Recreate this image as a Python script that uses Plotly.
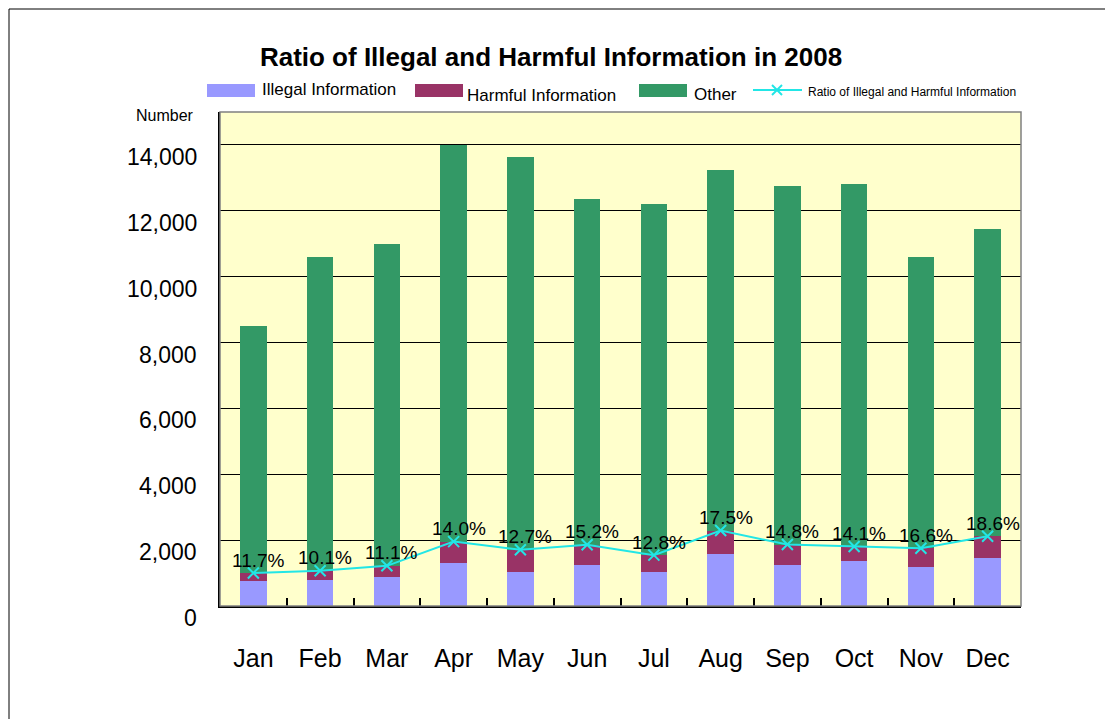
import plotly.graph_objects as go

months = ["Jan", "Feb", "Mar", "Apr", "May", "Jun", "Jul", "Aug", "Sep", "Oct", "Nov", "Dec"]
illegal = [760, 790, 880, 1315, 1040, 1245, 1035, 1580, 1245, 1365, 1185, 1460]
harmful = [240, 280, 340, 640, 670, 615, 510, 710, 620, 440, 570, 660]
other = [7500, 9530, 9780, 12045, 11930, 10500, 10665, 10950, 10885, 11010, 8845, 9330]
ratio = [11.7, 10.1, 11.1, 14.0, 12.7, 15.2, 12.8, 17.5, 14.8, 14.1, 16.6, 18.6]
y_ticks = [0, 2000, 4000, 6000, 8000, 10000, 12000, 14000]

series_names = ["Illegal Information", "Harmful Information", "Other",
                "Ratio of Illegal and Harmful Information"]
series_colors = ["#9999FF", "#993366", "#339966", "#22E6E6"]

ratio_y = [a + b for a, b in zip(illegal, harmful)]
ratio_txt = [f"{r:.1f}%" for r in ratio]

# page geometry (browser body has an 8px margin)
OFF = 8
W, H = 1113 - OFF, 719 - OFF
PL, PR, PT, PB = 220, 1021, 112, 606  # plot area in page pixels
L, T = PL - OFF, PT - OFF
R, B = 1113 - PR, 719 - PB
pw, ph = PR - PL, PB - PT


def pxx(px):
    return (px - PL) / pw


def pxy(py):
    return (PB - py) / ph


FONT = "Liberation Sans, Arial, sans-serif"

fig = go.Figure()
for vals, nm, col in zip([illegal, harmful, other], series_names[:3], series_colors[:3]):
    fig.add_trace(go.Bar(x=months, y=vals, name=nm,
                         marker=dict(color=col, line=dict(width=0))))
fig.add_trace(go.Scatter(
    x=months, y=ratio_y, mode="lines+markers", name=series_names[3],
    line=dict(color=series_colors[3], width=2),
    marker=dict(symbol="x-thin", size=11, line=dict(color=series_colors[3], width=2),
                color=series_colors[3]),
    cliponaxis=False,
))

annotations = []
for m, yv, t in zip(months, ratio_y, ratio_txt):
    annotations.append(dict(
        x=m, y=yv, xref="x", yref="y", xshift=5, yshift=13,
        xanchor="center", yanchor="middle", showarrow=False, text=t,
        font=dict(size=19, color="#000000", family=FONT),
    ))
for v in y_ticks:
    annotations.append(dict(
        x=0, xref="paper", y=v, yref="y", yshift=-12, xshift=-21,
        xanchor="right", yanchor="middle", showarrow=False,
        text=f"{v:,}", font=dict(size=23, color="#000000", family=FONT),
    ))
annotations.append(dict(
    x=pxx(165), xref="paper", y=pxy(115), yref="paper",
    xanchor="center", yanchor="middle", showarrow=False,
    text="Number", font=dict(size=16, color="#000000", family=FONT),
))

# manual legend (swatch left edge, text left edge, text centre y, font size)
legend_layout = [(207, 260, 90, 17), (415, 465, 95, 17), (639, 692, 94, 17), (753, 806, 92, 12)]
shapes = [
    dict(type="rect", xref="paper", yref="paper", x0=pxx(OFF + 1), x1=1.3,
         y0=-0.5, y1=pxy(OFF + 1), line=dict(color="#000000", width=1), layer="below"),
    dict(type="rect", xref="paper", yref="paper", x0=0, x1=1, y0=0, y1=1,
         line=dict(color="#808080", width=1.5)),
]
for i, (sx, tx, ty, fs) in enumerate(legend_layout):
    if i < 3:
        shapes.append(dict(type="rect", xref="paper", yref="paper",
                           x0=pxx(sx), x1=pxx(sx + 48), y0=pxy(97), y1=pxy(84),
                           fillcolor=series_colors[i], line=dict(width=0)))
    else:
        shapes.append(dict(type="line", xref="paper", yref="paper",
                           x0=pxx(sx), x1=pxx(sx + 49), y0=pxy(90), y1=pxy(90),
                           line=dict(color=series_colors[i], width=2)))
        cx = sx + 24
        for d in (1, -1):
            shapes.append(dict(type="line", xref="paper", yref="paper",
                               x0=pxx(cx - 5), x1=pxx(cx + 5), y0=pxy(90 - 5 * d), y1=pxy(90 + 5 * d),
                               line=dict(color=series_colors[i], width=2)))
    annotations.append(dict(
        x=pxx(tx), xref="paper", y=pxy(ty), yref="paper",
        xanchor="left", yanchor="middle", showarrow=False, text=series_names[i],
        font=dict(size=fs, color="#000000", family=FONT),
    ))

fig.update_layout(
    width=W, height=H,
    margin=dict(l=L, r=R, t=T, b=B),
    barmode="stack", bargap=0.6,
    paper_bgcolor="#FFFFFF", plot_bgcolor="#FFFFCC",
    title=dict(text="<b>Ratio of Illegal and Harmful Information in 2008</b>",
               x=(551 - OFF) / W, xref="container", xanchor="center",
               y=1 - (57 - OFF) / H, yref="container", yanchor="middle",
               font=dict(size=26, color="#000000", family=FONT)),
    showlegend=False,
    xaxis=dict(type="category", range=[-0.5, 11.5], tickson="boundaries",
               ticks="inside", ticklen=8, tickcolor="#000000", tickwidth=1.5,
               showline=True, linecolor="#000000", linewidth=2,
               showgrid=False, ticklabelstandoff=29,
               tickfont=dict(size=25, color="#000000", family=FONT)),
    yaxis=dict(range=[0, 15000], tickvals=y_ticks, showticklabels=False,
               showgrid=True, gridcolor="#000000", gridwidth=1,
               showline=True, linecolor="#000000", linewidth=2,
               zeroline=False, ticks=""),
    annotations=annotations,
    shapes=shapes,
)

fig.write_html("out.html")
